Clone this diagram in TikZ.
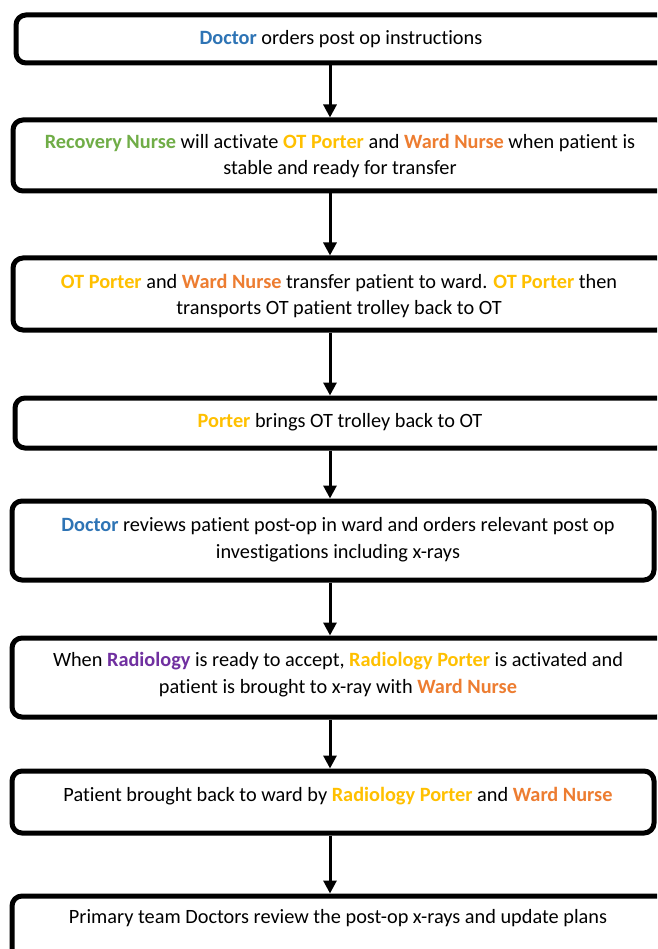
\documentclass[tikz,border=0pt]{standalone}
\usepackage{fontspec}
\setmainfont[Ligatures=CommonOff]{Carlito}
\usetikzlibrary{arrows.meta}
\definecolor{cdoc}{HTML}{2E74B5}
\definecolor{cgreen}{HTML}{70AD47}
\definecolor{camber}{HTML}{FFC000}
\definecolor{corange}{HTML}{ED7D31}
\definecolor{cpurple}{HTML}{7030A0}
\newcommand{\Doc}{\textbf{\textcolor{cdoc}{Doctor}}}
\newcommand{\OTP}{\textbf{\textcolor{camber}{OT Porter}}}
\newcommand{\WN}{\textbf{\textcolor{corange}{Ward Nurse}}}
\newcommand{\RP}{\textbf{\textcolor{camber}{Radiology Porter}}}
\tikzset{
  flowbox/.style={draw=black, line width=5pt, rounded corners=10pt, minimum width=#1, inner sep=0pt},
  txt/.style={align=center, font=\fontsize{20.3}{26.8}\selectfont, inner sep=0pt},
  arr/.style={line width=3pt, -{Triangle[width=13pt,length=13pt]}}
}
\begin{document}
\begin{tikzpicture}[x=1pt,y=-1pt]
\useasboundingbox (0,0) rectangle (657,949);
\clip (0,0) rectangle (657,949);
\fill[white] (0,0) rectangle (657,949);
\coordinate (ax) at (330,0);
% boxes
\node[flowbox=651pt, minimum height=48pt] (b1) at (341.5,39) {};
\node[flowbox=654pt, minimum height=71pt] (b2) at (340,155.5) {};
\node[flowbox=654pt, minimum height=72pt] (b3) at (340,294) {};
\node[flowbox=652pt, minimum height=50pt] (b4) at (341,423) {};
\node[flowbox=642pt, minimum height=79pt] (b5) at (333,540.5) {};
\node[flowbox=655pt, minimum height=79pt] (b6) at (339.5,677.5) {};
\node[flowbox=642pt, minimum height=62pt] (b7) at (333,802) {};
\node[flowbox=655pt, minimum height=80pt] (b8) at (339.5,936) {};
% texts
\node[txt] (t1) at (341,39) {\Doc{} orders post op instructions};
\node[txt] (t2) at (340,156) {\textbf{\textcolor{cgreen}{Recovery Nurse}} will activate \OTP{} and \WN{} when patient is\\ stable and ready for transfer};
\node[txt] (t3) at (339,296) {\OTP{} and \WN{} transfer patient to ward. \OTP{} then\\ transports OT patient trolley back to OT};
\node[txt] (t4) at (340,422) {\textbf{\textcolor{camber}{Porter}} brings OT trolley back to OT};
\node[txt] (t5) at (338,540) {\Doc{} reviews patient post-op in ward and orders relevant post op\\ investigations including x-rays};
\node[txt] (t6) at (338,675) {When \textbf{\textcolor{cpurple}{Radiology}} is ready to accept, \RP{} is activated and\\ patient is brought to x-ray with \WN{}};
\node[txt] (t7) at (338,796) {Patient brought back to ward by \RP{} and \WN{}};
\node[txt] (t8) at (338,918) {Primary team Doctors review the post-op x-rays and update plans};
% arrows
\draw[arr] (b1.south -| ax) -- (b2.north -| ax);
\draw[arr] (b2.south -| ax) -- (b3.north -| ax);
\draw[arr] (b3.south -| ax) -- (b4.north -| ax);
\draw[arr] (b4.south -| ax) -- (b5.north -| ax);
\draw[arr] (b5.south -| ax) -- (b6.north -| ax);
\draw[arr] (b6.south -| ax) -- (b7.north -| ax);
\draw[arr] (b7.south -| ax) -- (b8.north -| ax);
\end{tikzpicture}
\end{document}
